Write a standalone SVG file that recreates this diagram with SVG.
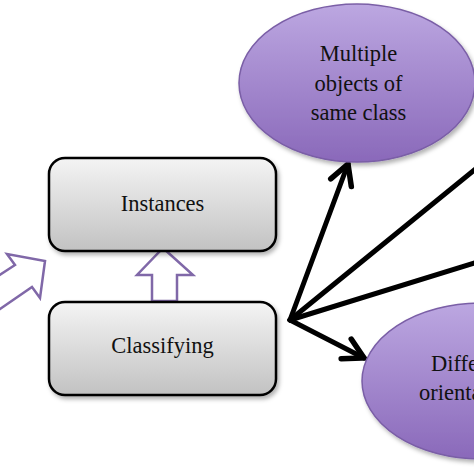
<svg xmlns="http://www.w3.org/2000/svg" width="474" height="474" viewBox="0 0 474 474">
  <defs>
    <linearGradient id="gBox" x1="0" y1="0" x2="0" y2="1">
      <stop offset="0" stop-color="#f4f4f4"/>
      <stop offset="1" stop-color="#c2c2c2"/>
    </linearGradient>
    <linearGradient id="gEll" x1="0" y1="0" x2="0" y2="1">
      <stop offset="0" stop-color="#bca7e1"/>
      <stop offset="1" stop-color="#8a69ba"/>
    </linearGradient>
    <filter id="sh" x="-10%" y="-10%" width="125%" height="130%">
      <feDropShadow dx="2" dy="3" stdDeviation="2" flood-color="#000" flood-opacity="0.3"/>
    </filter>
    <marker id="ah" markerUnits="userSpaceOnUse" markerWidth="40" markerHeight="40" viewBox="-30 -20 40 40" refX="0" refY="0" orient="auto">
      <path d="M-20,-11 L0,0 L-20,11" fill="none" stroke="#000" stroke-width="5.5" stroke-linecap="round" stroke-linejoin="miter"/>
    </marker>
    <style>
      .box { fill: url(#gBox); stroke: #000; stroke-width: 2.5; filter: url(#sh); }
      .ell { fill: url(#gEll); stroke: #7a5ea6; stroke-width: 1.5; filter: url(#sh); }
      .lbl { font-family: "Liberation Serif", "Times New Roman", serif; font-size: 22.5px; fill: #111; }
      .conn { fill: none; stroke: #000; stroke-width: 5; stroke-linecap: round; }
      .blk { fill: #fff; stroke: #8068a8; stroke-width: 2.5; stroke-linejoin: miter; }
    </style>
  </defs>

  <g id="connectors">
    <line class="conn" x1="290" y1="320" x2="348" y2="164" marker-end="url(#ah)"/>
    <line class="conn" x1="290" y1="320" x2="478" y2="167"/>
    <line class="conn" x1="290" y1="320" x2="478" y2="262"/>
    <line class="conn" x1="290" y1="320" x2="364" y2="358" marker-end="url(#ah)"/>
    <polygon id="arrow-up" class="blk" points="163,248 193,275 177,275 177,301 152,301 152,275 137,275"/>
    <polygon id="arrow-left" class="blk" points="45,261 40,298 32,287 -10,316 -20,288 15,265 7,254"/>
  </g>

  <g id="node-instances">
    <rect class="box" x="49" y="158" width="227" height="93" rx="16" ry="16"/>
    <text class="lbl" x="162.5" y="211" text-anchor="middle">Instances</text>
  </g>

  <g id="node-classifying">
    <rect class="box" x="49" y="302" width="227" height="93" rx="16" ry="16"/>
    <text class="lbl" x="162.5" y="353" text-anchor="middle">Classifying</text>
  </g>

  <g id="node-multiple">
    <ellipse class="ell" cx="357" cy="83" rx="118" ry="79"/>
    <text class="lbl" x="358.5" y="61" text-anchor="middle">Multiple</text>
    <text class="lbl" x="358.5" y="90.5" text-anchor="middle">objects of</text>
    <text class="lbl" x="358.5" y="120" text-anchor="middle">same class</text>
  </g>

  <g id="node-different">
    <ellipse class="ell" cx="481" cy="381" rx="119" ry="78"/>
    <text class="lbl" x="431" y="371">Diffe</text>
    <text class="lbl" x="419" y="400">orienta</text>
  </g>
</svg>
